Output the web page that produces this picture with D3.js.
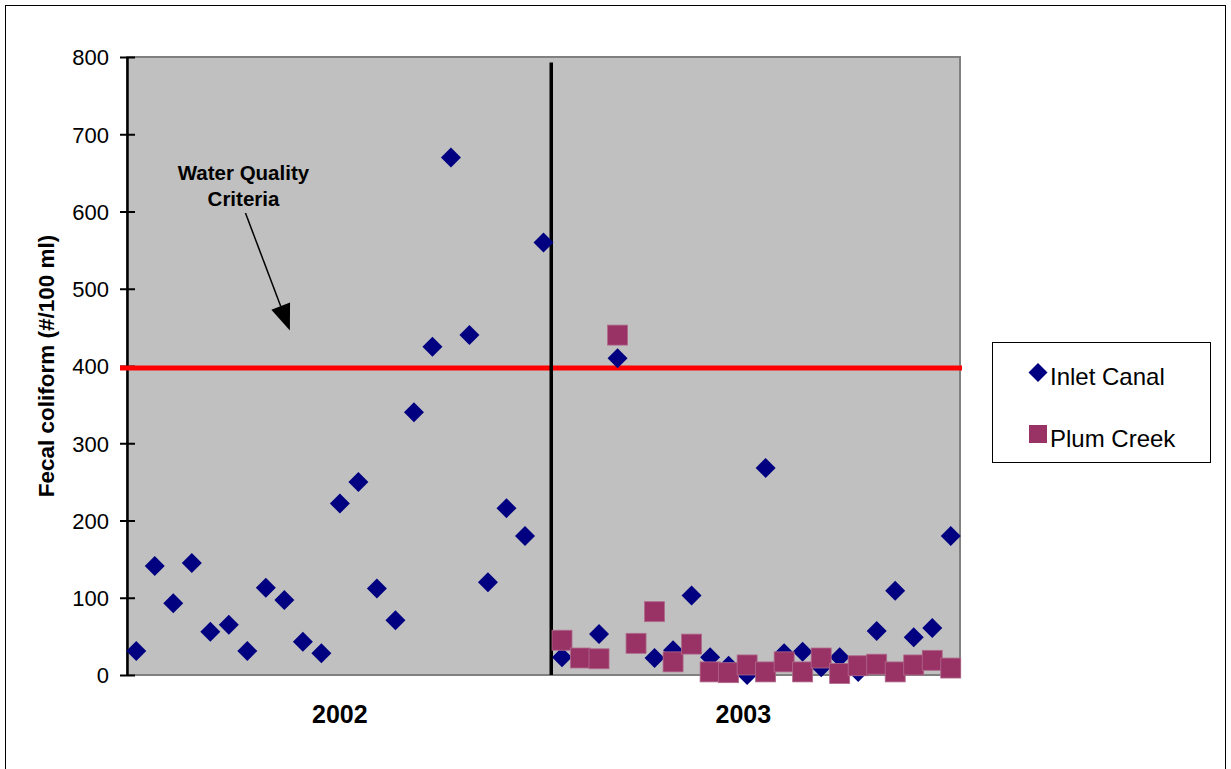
<!DOCTYPE html>
<html>
<head>
<meta charset="utf-8">
<script src="https://cdn.jsdelivr.net/npm/d3@7/dist/d3.min.js"></script>
<style>
  body { margin: 0; background: #fff; }
  svg { display: block; font-family: Arial, "Liberation Sans", sans-serif; }
</style>
</head>
<body>
<svg id="chart" width="1231" height="769"></svg>
<script>
// sampling years and how many samples each one has
const years = ["2002", "2003"];
const yearCounts = [23, 22];

// fecal coliform (#/100 ml), one value per sample, in order
const inletCanal = [
    31, 141, 93, 145, 56, 65, 31, 113, 97, 43, 28, 222, 250, 112, 71, 340, 425, 670, 440, 120, 216, 180, 560,
    23, 22, 53, 410, 41, 22, 32, 103, 23, 12, 0, 268, 28, 30, 10, 23, 4, 57, 109, 49, 61, 180
];
// Plum Creek was only sampled in 2003
const plumCreek = [
    null, null, null, null, null, null, null, null, null, null, null, null,
    null, null, null, null, null, null, null, null, null, null, null,
    45, 22, 21, 440, 41, 82, 17, 40, 4, 3, 13, 4, 17, 4, 22, 2, 12, 14, 4, 13, 19, 9
];

const criteria = 400;
const yTicks = [0, 100, 200, 300, 400, 500, 600, 700, 800];

const svg = d3.select("#chart");
const plot = { left: 127, right: 960, top: 57, bottom: 675 };

const nSamples = inletCanal.length;
const x = d3.scaleBand()
    .domain(d3.range(nSamples))
    .range([plot.left, plot.right]);
const cx = i => x(i) + x.bandwidth() / 2;

const y = d3.scaleLinear()
    .domain([0, 800])
    .range([plot.bottom, plot.top]);

// outer chart border
svg.append("rect")
    .attr("x", 5.5).attr("y", 5.5)
    .attr("width", 1220).attr("height", 780)
    .attr("fill", "none")
    .attr("stroke", "#000")
    .attr("stroke-width", 1);

// plot area
svg.append("rect")
    .attr("x", plot.left).attr("y", plot.top)
    .attr("width", plot.right - plot.left)
    .attr("height", plot.bottom - plot.top)
    .attr("fill", "#c0c0c0")
    .attr("stroke", "#808080")
    .attr("stroke-width", 2);

// y axis with cross ticks
const yAxis = svg.append("g")
    .attr("transform", `translate(${plot.left},0)`)
    .call(d3.axisLeft(y).tickValues(yTicks).tickSizeInner(7).tickSizeOuter(0).tickPadding(11));
yAxis.select(".domain").attr("stroke", "#000").attr("stroke-width", 2.5);
yAxis.selectAll(".tick line")
    .attr("x2", 8)
    .attr("x1", -7)
    .attr("stroke", "#000")
    .attr("stroke-width", 2);
yAxis.selectAll(".tick text")
    .attr("font-size", 22)
    .attr("font-family", "Arial, 'Liberation Sans', sans-serif")
    .attr("fill", "#000")
    .attr("dy", "0.36em");

svg.append("text")
    .attr("transform", `translate(54,${(plot.top + plot.bottom) / 2}) rotate(-90)`)
    .attr("text-anchor", "middle")
    .attr("font-size", 22.5)
    .attr("font-weight", "bold")
    .text("Fecal coliform (#/100 ml)");

// year labels under each group
let start = 0;
const groups = years.map((yr, k) => {
    const g = { year: yr, first: start, last: start + yearCounts[k] - 1 };
    start += yearCounts[k];
    return g;
});
svg.selectAll(".year-label")
    .data(groups)
    .enter()
    .append("text")
    .attr("class", "year-label")
    .attr("x", (d, k) => (cx(d.first) + cx(d.last)) / 2 - (k === 1 ? 13 : 0))
    .attr("y", 723)
    .attr("text-anchor", "middle")
    .attr("font-size", 25)
    .attr("font-weight", "bold")
    .text(d => d.year);

// criteria line
svg.append("line")
    .attr("x1", plot.left - 7).attr("x2", plot.right + 2)
    .attr("y1", y(criteria) + 2).attr("y2", y(criteria) + 2)
    .attr("stroke", "#ff0000")
    .attr("stroke-width", 5);

// divider between years
svg.selectAll(".year-divider")
    .data(groups.slice(1))
    .enter()
    .append("line")
    .attr("class", "year-divider")
    .attr("x1", d => x(d.first) - 1.5).attr("x2", d => x(d.first) - 1.5)
    .attr("y1", y(793)).attr("y2", plot.bottom)
    .attr("stroke", "#000")
    .attr("stroke-width", 3.5);

// annotation, placed in data space
const noteFrom = [5.9, 598], noteTo = [8.3, 446];
const ax1 = cx(0) + noteFrom[0] * x.bandwidth(), ay1 = y(noteFrom[1]);
const ax2 = cx(0) + noteTo[0] * x.bandwidth(), ay2 = y(noteTo[1]);
svg.append("text")
    .attr("x", ax1 - 2).attr("y", 180)
    .attr("text-anchor", "middle")
    .attr("font-size", 20.5)
    .attr("font-weight", "bold")
    .selectAll("tspan")
    .data(["Water Quality", "Criteria"])
    .enter()
    .append("tspan")
    .attr("x", ax1 - 2)
    .attr("dy", (d, i) => i === 0 ? 0 : 26)
    .text(d => d);
const ang = Math.atan2(ay2 - ay1, ax2 - ax1);
const headLen = 26, headW = 10;
const bx = ax2 - headLen * Math.cos(ang), by = ay2 - headLen * Math.sin(ang);
svg.append("line")
    .attr("x1", ax1).attr("y1", ay1)
    .attr("x2", bx).attr("y2", by)
    .attr("stroke", "#000")
    .attr("stroke-width", 1.5);
svg.append("path")
    .attr("d", d3.line()([
        [ax2, ay2],
        [bx + headW * Math.sin(ang), by - headW * Math.cos(ang)],
        [bx - headW * Math.sin(ang), by + headW * Math.cos(ang)]
    ]) + "Z")
    .attr("fill", "#000");

// markers
const diamond = r => `M0,${-r}L${r},0L0,${r}L${-r},0Z`;
const half = 10;

svg.append("g")
    .selectAll(".inlet")
    .data(inletCanal.map((v, i) => ({ i, v })).filter(d => d.v !== null))
    .enter()
    .append("path")
    .attr("class", "inlet")
    .attr("transform", d => `translate(${cx(d.i)},${y(d.v)})`)
    .attr("d", diamond(half))
    .attr("fill", "#000080");

svg.append("g")
    .selectAll(".plum")
    .data(plumCreek.map((v, i) => ({ i, v })).filter(d => d.v !== null))
    .enter()
    .append("rect")
    .attr("class", "plum")
    .attr("x", d => cx(d.i) - half)
    .attr("y", d => y(d.v) - half)
    .attr("width", half * 2)
    .attr("height", half * 2)
    .attr("fill", "#993366")
    .attr("stroke", "#b06a8c")
    .attr("stroke-width", 0.8);

// legend
const legend = svg.append("g").attr("transform", "translate(992.5,342.5)");
legend.append("rect")
    .attr("width", 218).attr("height", 120)
    .attr("fill", "#fff")
    .attr("stroke", "#000")
    .attr("stroke-width", 1);
const legendItems = [
    { name: "Inlet Canal", color: "#000080", shape: "diamond" },
    { name: "Plum Creek", color: "#993366", shape: "square" }
];
const li = legend.selectAll(".legend-item")
    .data(legendItems)
    .enter()
    .append("g")
    .attr("class", "legend-item")
    .attr("transform", (d, i) => `translate(45.5,${30 + i * 61.5})`);
li.filter(d => d.shape === "diamond")
    .append("path")
    .attr("d", diamond(9.5))
    .attr("fill", d => d.color);
li.filter(d => d.shape === "square")
    .append("rect")
    .attr("x", -9).attr("y", -9)
    .attr("width", 18).attr("height", 18)
    .attr("fill", d => d.color);
li.append("text")
    .attr("x", 12)
    .attr("y", 12.5)
    .attr("font-size", 24)
    .text(d => d.name);
</script>
</body>
</html>
